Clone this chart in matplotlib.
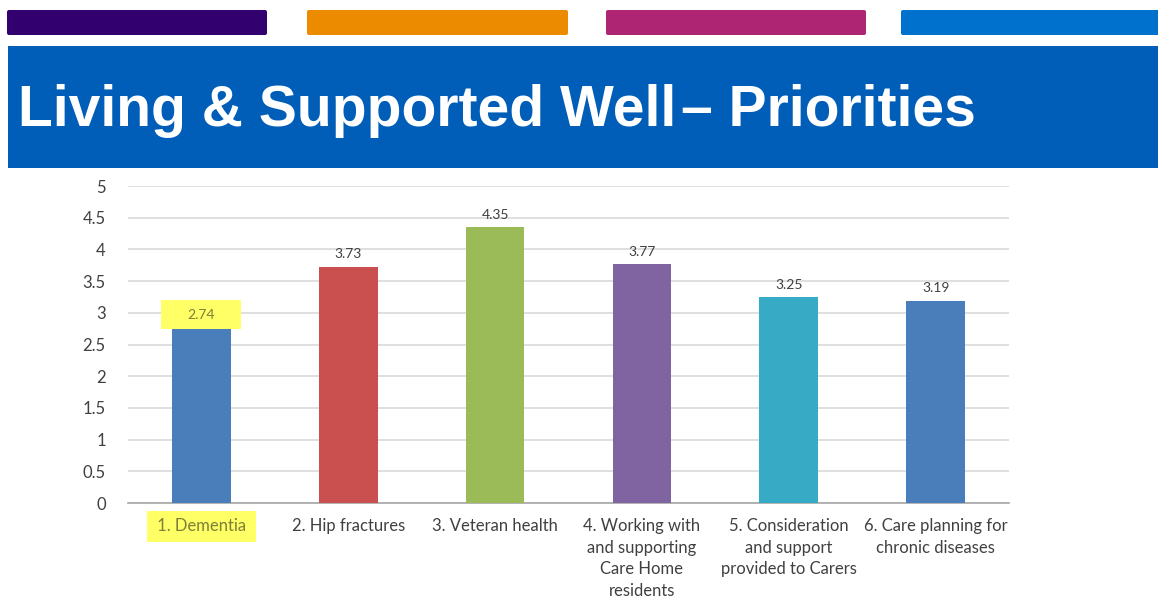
import matplotlib.pyplot as plt
from matplotlib.patches import Rectangle, FancyBboxPatch

# chart data
categories = ["1. Dementia", "2. Hip fractures", "3. Veteran health",
              "4. Working with\nand supporting\nCare Home\nresidents",
              "5. Consideration\nand support\nprovided to Carers",
              "6. Care planning for\nchronic diseases"]
scores = [2.74, 3.73, 4.35, 3.77, 3.25, 3.19]
bar_colors = ["#4A7EBB", "#C9504F", "#9BBB59", "#8064A2", "#37ABC6", "#4A7EBB"]
highlighted = [0]

title = "Living & Supported Well\u200a\u2013 Priorities"

W, H = 1158, 601
fig = plt.figure(figsize=(W / 100, H / 100), dpi=100)

# header decoration, drawn in pixel space
bg = fig.add_axes([0, 0, 1, 1])
bg.set_xlim(0, W)
bg.set_ylim(H, 0)
bg.axis("off")
strips = [(7, 267, "#33006F"), (307, 568, "#ED8B00"),
          (606, 866, "#AE2573"), (901, 1170, "#0072CE")]
for x0, x1, c in strips:
    bg.add_patch(FancyBboxPatch((x0, 10), x1 - x0, 25,
                                boxstyle="round,pad=0,rounding_size=2",
                                facecolor=c, edgecolor="none"))
bg.add_patch(Rectangle((8, 46), W - 8, 122, facecolor="#005EB8", edgecolor="none"))
bg.text(18, 126, title, color="white", fontsize=41, fontweight="bold",
        family="Liberation Sans", va="baseline", ha="left")

# the chart
ax = fig.add_axes([128 / W, 98 / H, 881 / W, 317 / H])
x = range(len(scores))
bars = ax.bar(x, scores, width=0.4, color=bar_colors, zorder=3)

ax.set_ylim(0, 5)
ax.set_xlim(-0.5, len(scores) - 0.5)
ax.set_yticks([i * 0.5 for i in range(11)])
ax.set_yticklabels(["0", "0.5", "1", "1.5", "2", "2.5", "3", "3.5", "4", "4.5", "5"])
ax.grid(axis="y", color="#D9D9D9", linewidth=1.2, zorder=0)
for s in ["top", "right", "left"]:
    ax.spines[s].set_visible(False)
ax.spines["bottom"].set_color("#A6A6A6")
ax.spines["bottom"].set_linewidth(1.2)
ax.tick_params(axis="both", length=0, labelsize=12, colors="#404040")
ax.tick_params(axis="y", pad=16)
ax.tick_params(axis="x", pad=11)
ax.set_xticks(list(x))
labels = ["\u2009" + c + "\u2009" if i in highlighted else c for i, c in enumerate(categories)]
ax.set_xticklabels(labels, family=["Lato", "DejaVu Sans"], linespacing=1.42, va="top")
for lbl in ax.get_yticklabels():
    lbl.set_family("Lato")

for i, (b, v) in enumerate(zip(bars, scores)):
    if i in highlighted:
        ax.add_patch(Rectangle((i - 0.272, v), 0.544, 0.46, facecolor="#FFFF66",
                               edgecolor="none", zorder=4))
        ax.text(i, v + 0.22, f"{v:.2f}", ha="center", va="center", fontsize=10,
                color="#7F7F3A", family="Lato", zorder=5)
    else:
        ax.text(i, v + 0.1, f"{v:.2f}", ha="center", va="bottom", fontsize=10,
                color="#404040", family="Lato", zorder=5)

for i, lbl in enumerate(ax.get_xticklabels()):
    if i in highlighted:
        lbl.set_color("#7F7F3A")
        lbl.set_bbox(dict(facecolor="#FFFF66", edgecolor="none",
                          boxstyle="square,pad=0.45"))

fig.savefig("out.png", dpi=100)
